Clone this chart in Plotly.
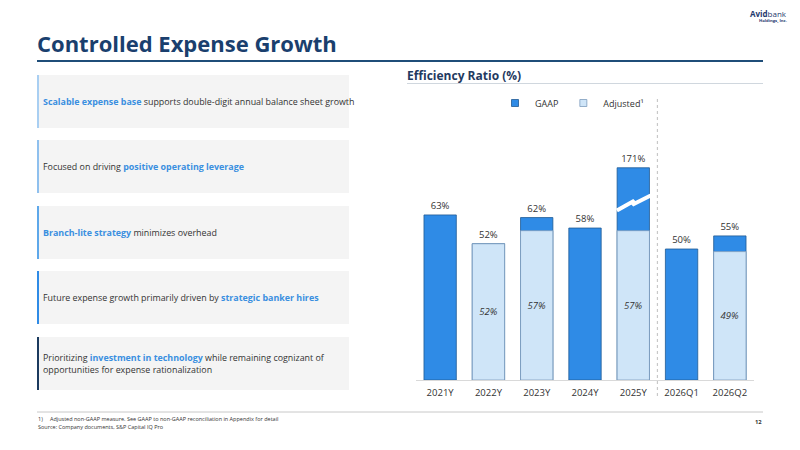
import plotly.graph_objects as go

# ---------------- data ----------------
categories = ["2021Y", "2022Y", "2023Y", "2024Y", "2025Y", "2026Q1", "2026Q2"]
gaap_values = [63, 52, 62, 58, 171, 50, 55]
adjusted_values = [None, 52, 57, None, 57, None, 49]
bullets = [
    ("<span style='color:#3a8fe0'><b>Scalable expense base</b></span> supports double-digit annual balance sheet growth", "#a9cff2"),
    ("Focused on driving <span style='color:#3a8fe0'><b>positive operating leverage</b></span>", "#8fc0ee"),
    ("<span style='color:#3a8fe0'><b>Branch-lite strategy</b></span> minimizes overhead", "#5ea8ea"),
    ("Future expense growth primarily driven by <span style='color:#3a8fe0'><b>strategic banker hires</b></span>", "#2f8be6"),
    ("Prioritizing <span style='color:#3a8fe0'><b>investment in technology</b></span> while remaining cognizant of<br>opportunities for expense rationalization", "#1b3a5e"),
]

# display settings for broken axis
BREAK_CAP = 81        # drawn height of the broken bar
BREAK_LEVEL = 67.5    # where the break mark sits

W, H = 800, 450
OFF = 8  # page body margin offset
def px(x):
    return (x - OFF) / W
def py(y):
    return 1 - (y - OFF) / H

display_gaap = [min(v, BREAK_CAP) for v in gaap_values]
GAAP_C = "#2f8be6"
ADJ_C = "#cfe5f8"
NAVY = "#1a3f6e"
FONT = "Open Sans"

fig = go.Figure()
fig.add_trace(go.Bar(
    x=categories, y=display_gaap, name="GAAP", showlegend=False,
    marker=dict(color=GAAP_C, line=dict(color="#1f5a94", width=0.8)),
    text=[f"{v}%" for v in gaap_values], textposition="outside",
    textfont=dict(size=9.5, color="#333333", family=FONT),
    cliponaxis=False,
))
fig.add_trace(go.Bar(
    x=categories, y=adjusted_values, name="Adjusted\u00b9", showlegend=False,
    marker=dict(color=ADJ_C, line=dict(color="#7d9cbc", width=0.8)),
    text=[f"<i>{v}%</i>" if v is not None else "" for v in adjusted_values],
    textposition="inside", insidetextanchor="middle", textangle=0,
    textfont=dict(size=9.5, color="#333333", family=FONT),
    cliponaxis=False,
))
# legend entries (square swatches)
for nm, col, lc in [("GAAP", GAAP_C, "#1f5a94"), ("Adjusted\u00b9", ADJ_C, "#7d9cbc")]:
    fig.add_trace(go.Scatter(
        x=[None], y=[None], mode="markers", name=nm,
        marker=dict(symbol="square", size=7, color=col, line=dict(color=lc, width=0.8)),
    ))

# break mark on the broken bar (numeric overlay axis)
bi = gaap_values.index(max(gaap_values))
fig.add_trace(go.Scatter(
    x=[bi - 0.34, bi + 0.02, bi - 0.02, bi + 0.36],
    y=[BREAK_LEVEL - 2.8, BREAK_LEVEL + 0.9, BREAK_LEVEL - 0.6, BREAK_LEVEL + 2.9],
    xaxis="x2", mode="lines", line=dict(color="white", width=4), showlegend=False,
    hoverinfo="skip", cliponaxis=False,
))

plot_top, plot_bot = 110, 380
scale = 2.62
dom = [px(416), px(754)]
fig.update_layout(
    width=W, height=H, margin=dict(l=0, r=0, t=0, b=0),
    paper_bgcolor="white", plot_bgcolor="white",
    barmode="overlay", bargap=0.33,
    font=dict(family=FONT, color="#333333"),
    xaxis=dict(domain=dom, type="category", showgrid=False, showline=True,
               linecolor="#d9d9d9", linewidth=1, ticks="", tickangle=0, ticklabelstandoff=4,
               tickfont=dict(size=9.5, color="#333333", family=FONT), fixedrange=True),
    xaxis2=dict(domain=dom, overlaying="x", range=[-0.5, len(categories) - 0.5],
                visible=False, fixedrange=True),
    yaxis=dict(domain=[py(plot_bot), py(plot_top)], range=[0, (plot_bot - plot_top) / scale],
               visible=False, fixedrange=True),
    legend=dict(orientation="h", x=px(572), xanchor="center", y=py(103), yanchor="middle",
                font=dict(size=9, color="#333333", family=FONT), itemwidth=30,
                traceorder="normal", bgcolor="rgba(0,0,0,0)"),
    showlegend=True,
)

shapes = []
# separator
shapes.append(dict(type="line", xref="x2", yref="paper", x0=4.5, x1=4.5,
                   y0=py(396), y1=py(97), line=dict(color="#c8c8c8", width=1.2, dash="dot")))
# title underline
shapes.append(dict(type="line", xref="paper", yref="paper", x0=px(37), x1=px(763),
                   y0=py(61), y1=py(61), line=dict(color="#1f4e79", width=2)))
# chart title underline
shapes.append(dict(type="line", xref="paper", yref="paper", x0=px(407), x1=px(763),
                   y0=py(83.5), y1=py(83.5), line=dict(color="#d0d7de", width=1)))
# footnote line
shapes.append(dict(type="line", xref="paper", yref="paper", x0=px(37), x1=px(763),
                   y0=py(412), y1=py(412), line=dict(color="#c8c8c8", width=1)))

annotations = []
box_tops = [75, 140, 206, 271, 337]
box_h = 53
for (txt, col), top in zip(bullets, box_tops):
    shapes.append(dict(type="rect", xref="paper", yref="paper", x0=px(37), x1=px(349),
                       y0=py(top + box_h), y1=py(top), fillcolor="#f4f4f4", line=dict(width=0),
                       layer="below"))
    shapes.append(dict(type="line", xref="paper", yref="paper", x0=px(38), x1=px(38),
                       y0=py(top + box_h), y1=py(top), line=dict(color=col, width=2)))
    annotations.append(dict(xref="paper", yref="paper", x=px(41), y=py(top + box_h / 2),
                            xanchor="left", yanchor="middle", align="left", showarrow=False,
                            text=txt, font=dict(size=8.9, color="#333333", family=FONT)))

annotations += [
    dict(xref="paper", yref="paper", x=px(35), y=py(43), xanchor="left", yanchor="middle",
         showarrow=False, text="<b>Controlled Expense Growth</b>",
         font=dict(size=22, color=NAVY, family=FONT)),
    dict(xref="paper", yref="paper", x=px(405), y=py(76), xanchor="left", yanchor="middle",
         showarrow=False, text="<b>Efficiency Ratio (%)</b>",
         font=dict(size=12, color="#1f3a5f", family=FONT)),
    dict(xref="paper", yref="paper", x=px(789), y=py(13.5), xanchor="right", yanchor="middle",
         showarrow=False, text="<b>Avid</b>bank",
         font=dict(size=8, color="#1f3a6e", family=FONT)),
    dict(xref="paper", yref="paper", x=px(789), y=py(21), xanchor="right", yanchor="middle",
         showarrow=False, text="<b>Holdings, Inc.</b>",
         font=dict(size=4.2, color="#1f3a6e", family=FONT)),
    dict(xref="paper", yref="paper", x=px(36), y=py(419), xanchor="left", yanchor="middle",
         showarrow=False,
         text="1)&nbsp;&nbsp;&nbsp;&nbsp;&nbsp;Adjusted non-GAAP measure. See GAAP to non-GAAP reconciliation in Appendix for detail",
         font=dict(size=5.5, color="#333333", family=FONT)),
    dict(xref="paper", yref="paper", x=px(36), y=py(426.5), xanchor="left", yanchor="middle",
         showarrow=False, text="Source: Company documents, S&P Capital IQ Pro",
         font=dict(size=5.5, color="#333333", family=FONT)),
    dict(xref="paper", yref="paper", x=px(764), y=py(421.5), xanchor="right", yanchor="middle",
         showarrow=False, text="<b>12</b>",
         font=dict(size=5.8, color="#333333", family=FONT)),
]

fig.update_layout(shapes=shapes, annotations=annotations)
fig.write_html("out.html")
